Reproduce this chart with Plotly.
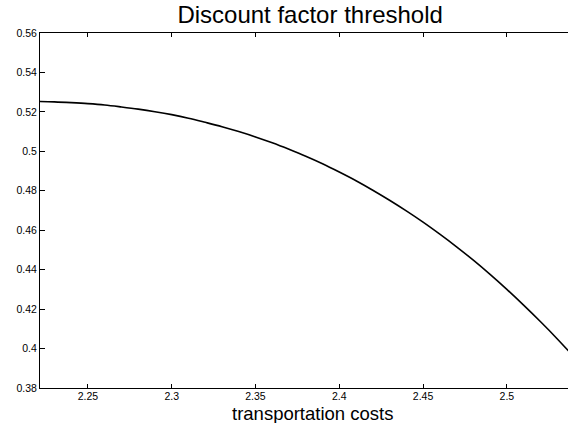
import plotly.graph_objects as go

# Data
transport_costs = [2.22, 2.23, 2.24, 2.25, 2.26, 2.27, 2.28, 2.29, 2.30, 2.31, 2.32,
                   2.33, 2.34, 2.35, 2.36, 2.37, 2.38, 2.39, 2.40, 2.41, 2.42, 2.43,
                   2.44, 2.45, 2.46, 2.47, 2.48, 2.49, 2.50, 2.51, 2.52, 2.53, 2.54]
discount_threshold = [0.5253, 0.5251, 0.5247, 0.5242, 0.5235, 0.5225, 0.5214, 0.5201,
                      0.5186, 0.5168, 0.5147, 0.5125, 0.5100, 0.5073, 0.5043, 0.5010,
                      0.4975, 0.4937, 0.4895, 0.4851, 0.4803, 0.4752, 0.4698, 0.4641,
                      0.4580, 0.4516, 0.4448, 0.4376, 0.4300, 0.4220, 0.4137, 0.4050,
                      0.3958]
x_ticks = [2.25, 2.3, 2.35, 2.4, 2.45, 2.5]
x_tick_text = ["2.25", "2.3", "2.35", "2.4", "2.45", "2.5"]
y_ticks = [0.38, 0.40, 0.42, 0.44, 0.46, 0.48, 0.50, 0.52, 0.54, 0.56]
y_tick_text = ["0.38", "0.4", "0.42", "0.44", "0.46", "0.48", "0.5", "0.52", "0.54", "0.56"]

FONT = "Liberation Sans, Arial, Helvetica, sans-serif"

fig = go.Figure()
fig.add_trace(go.Scatter(
    x=transport_costs, y=discount_threshold, mode="lines",
    line=dict(color="black", width=1.6, shape="spline"),
    showlegend=False, hoverinfo="skip"))

fig.update_layout(
    width=568, height=423,
    margin=dict(l=40, r=0, t=33, b=35),
    paper_bgcolor="white", plot_bgcolor="white",
    font=dict(family=FONT, color="black", size=10.5),
    title=dict(text="Discount factor threshold", x=0.546, xref="container",
               xanchor="center", y=0.965, yref="container", yanchor="middle",
               font=dict(family=FONT, size=24, color="black")),
    xaxis=dict(range=[2.2214, 2.5365], tickvals=x_ticks, ticktext=x_tick_text,
               ticks="inside", ticklen=4, tickwidth=1, tickcolor="black",
               ticklabelstandoff=-2,
               showline=True, linecolor="black", linewidth=1, mirror="ticks",
               showgrid=False, zeroline=False,
               tickfont=dict(family=FONT, size=10.5, color="black")),
    yaxis=dict(range=[0.38, 0.56], tickvals=y_ticks, ticktext=y_tick_text,
               ticks="inside", ticklen=5, tickwidth=1, tickcolor="black",
               showline=True, linecolor="black", linewidth=1, mirror=False,
               showgrid=False, zeroline=False,
               tickfont=dict(family=FONT, size=10.5, color="black")),
    annotations=[dict(text="transportation costs", xref="paper", yref="paper",
                      x=0.517, y=-0.072, xanchor="center", yanchor="middle",
                      showarrow=False,
                      font=dict(family=FONT, size=18.5, color="black"))],
)

fig.write_html(
    "out.html",
    config={"displayModeBar": False},
    post_script="document.body.style.margin='0px';document.body.style.overflow='hidden';",
)
